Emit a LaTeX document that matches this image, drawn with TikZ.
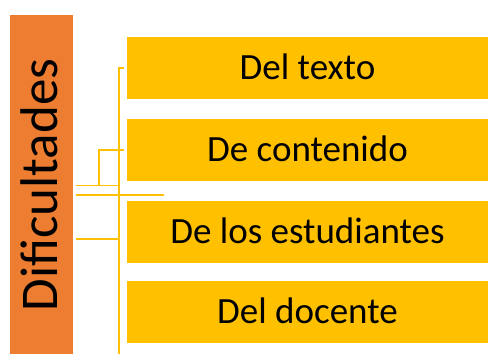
\documentclass[tikz,border=0pt]{standalone}
\usepackage{fontspec}
\setmainfont{Carlito}
\definecolor{gold}{HTML}{FFC000}
\definecolor{orng}{HTML}{ED7D31}
\begin{document}
\begin{tikzpicture}[x=1pt,y=-1pt,
  item/.style={fill=gold,draw=none,minimum width=361pt,minimum height=62pt,inner sep=0pt},
  lbl/.style={font=\fontsize{37}{40}\selectfont,anchor=base,inner sep=0pt},
  conn/.style={draw=gold,line width=1.8pt}]
\useasboundingbox (0,0) rectangle (488,354);
\fill[orng] (10,15) rectangle (73,354);
\node[font=\fontsize{53}{58}\selectfont,rotate=90,anchor=base,inner sep=0pt] (title) at (57,185) {Dificultades};
\node[item] (b1) at (307.5,68) {};
\node[item] (b2) at (307.5,150) {};
\node[item] (b3) at (307.5,232) {};
\node[item] (b4) at (307.5,312) {};
\node[lbl] (t1) at (307.5,79) {Del texto};
\node[lbl] (t2) at (307.5,161) {De contenido};
\node[lbl] (t3) at (307.5,243.5) {De los estudiantes};
\node[lbl] (t4) at (307.5,323.5) {Del docente};
\coordinate (vtop) at (119,68);
\coordinate (vbot) at (119,354);
\coordinate (tick) at (124,68);
\coordinate (brk1) at (124,150);
\coordinate (brk2) at (99,150);
\coordinate (brk3) at (99,185.5);
\coordinate (h1a) at (76,185.5);
\coordinate (h1b) at (119,185.5);
\coordinate (h2a) at (76,195.3);
\coordinate (h2b) at (164,195.3);
\coordinate (h3a) at (76,239);
\coordinate (h3b) at (119,239);
\draw[conn] (tick) -- (vtop) -- (vbot);
\draw[conn] (brk1) -- (brk2) -- (brk3);
\draw[conn] (h1a) -- (h1b);
\draw[conn] (h2a) -- (h2b);
\draw[conn] (h3a) -- (h3b);
\end{tikzpicture}
\end{document}
